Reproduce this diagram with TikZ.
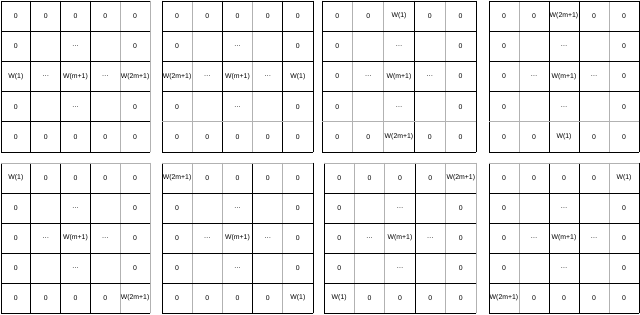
\documentclass[tikz,border=0pt]{standalone}
\usepackage{fontspec}
\setmainfont{Liberation Sans}
\colorlet{lk}{black}
\colorlet{lg}{black!30}
\tikzset{
  gridline/.style={line width=0.7pt, line cap=rect},
  cell/.style={inner sep=0pt, font=\fontsize{6.9}{7.5}\selectfont, text=black}
}
% #1 name, #2 x0, #3 x1, #4 y0, #5 y1, #6 vertical colours, #7 horizontal colours, #8 rows
\newcommand{\mygrid}[8]{%
  \foreach \col [count=\i from 0] in {#6} {
    \pgfmathsetmacro\xx{#2+\i*(#3-#2)/5}
    \draw[gridline, draw=l\col] (\xx,#4) -- (\xx,#5);
  }
  \foreach \col [count=\i from 0] in {#7} {
    \pgfmathsetmacro\yy{#4+\i*(#5-#4)/5}
    \draw[gridline, draw=l\col] (#2,\yy) -- (#3,\yy);
  }
  \foreach \row [count=\r] in {#8} {
    \foreach \t [count=\c] in \row {
      \pgfmathsetmacro\xx{#2+(\c-0.5)*(#3-#2)/5}
      \pgfmathsetmacro\yy{#4+(\r-0.5)*(#5-#4)/5}
      \node[cell] (#1-\r-\c) at (\xx,\yy) {\t};
    }
  }
}
\begin{document}
\begin{tikzpicture}[x=1pt,y=-1pt]
\useasboundingbox[fill=white] (0,0) rectangle (640,315);
\mygrid{ga}{1}{150}{1}{152}{k,k,k,k,g,g}{k,k,k,k,k,k}{
  {0,0,0,0,0},{0,{},\ldots,{},0},{W(1),\ldots,W(m+1),\ldots,W(2m+1)},{0,{},\ldots,{},0},{0,0,0,0,0}}
\mygrid{gb}{162}{313}{1}{152}{k,g,k,g,k,k}{k,k,k,k,g,k}{
  {0,0,0,0,0},{0,{},\ldots,{},0},{W(2m+1),\ldots,W(m+1),\ldots,W(1)},{0,{},\ldots,{},0},{0,0,0,0,0}}
\mygrid{gc}{322}{476}{1}{152}{k,g,g,k,g,k}{k,k,k,k,g,k}{
  {0,0,W(1),0,0},{0,{},\ldots,{},0},{0,\ldots,W(m+1),\ldots,0},{0,{},\ldots,{},0},{0,0,W(2m+1),0,0}}
\mygrid{gd}{489}{639}{1}{152}{k,g,k,k,g,k}{k,k,k,k,g,k}{
  {0,0,W(2m+1),0,0},{0,{},\ldots,{},0},{0,\ldots,W(m+1),\ldots,0},{0,{},\ldots,{},0},{0,0,W(1),0,0}}
\mygrid{ge}{1}{150}{163}{313}{k,k,k,k,g,g}{g,k,k,k,k,k}{
  {W(1),0,0,0,0},{0,{},\ldots,{},0},{0,\ldots,W(m+1),\ldots,0},{0,{},\ldots,{},0},{0,0,0,0,W(2m+1)}}
\mygrid{gf}{162}{313}{163}{313}{k,g,g,k,g,k}{g,k,k,k,k,k}{
  {W(2m+1),0,0,0,0},{0,{},\ldots,{},0},{0,\ldots,W(m+1),\ldots,0},{0,{},\ldots,{},0},{0,0,0,0,W(1)}}
\mygrid{gg}{324}{476}{163}{313}{k,g,g,k,g,g}{g,k,k,k,k,k}{
  {0,0,0,0,W(2m+1)},{0,{},\ldots,{},0},{0,\ldots,W(m+1),\ldots,0},{0,{},\ldots,{},0},{W(1),0,0,0,0}}
\mygrid{gh}{489}{639}{163}{313}{k,g,k,k,g,k}{g,k,k,k,k,k}{
  {0,0,0,0,W(1)},{0,{},\ldots,{},0},{0,\ldots,W(m+1),\ldots,0},{0,{},\ldots,{},0},{W(2m+1),0,0,0,0}}
\end{tikzpicture}
\end{document}
